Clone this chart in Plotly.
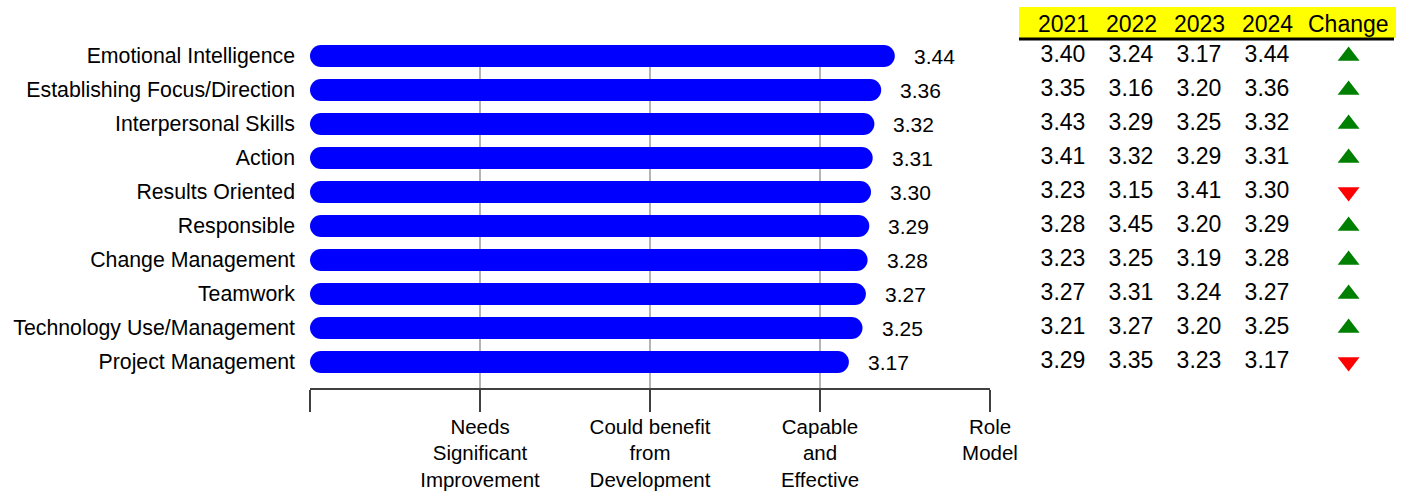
import plotly.graph_objects as go

competencies = [
    "Emotional Intelligence", "Establishing Focus/Direction", "Interpersonal Skills",
    "Action", "Results Oriented", "Responsible", "Change Management", "Teamwork",
    "Technology Use/Management", "Project Management",
]
scores_2024 = [3.44, 3.36, 3.32, 3.31, 3.30, 3.29, 3.28, 3.27, 3.25, 3.17]

years = ["2021", "2022", "2023", "2024"]
v2021 = [3.40, 3.35, 3.43, 3.41, 3.23, 3.28, 3.23, 3.27, 3.21, 3.29]
v2022 = [3.24, 3.16, 3.29, 3.32, 3.15, 3.45, 3.25, 3.31, 3.27, 3.35]
v2023 = [3.17, 3.20, 3.25, 3.29, 3.41, 3.20, 3.19, 3.24, 3.20, 3.23]
v2024 = [3.44, 3.36, 3.32, 3.31, 3.30, 3.29, 3.28, 3.27, 3.25, 3.17]

scale_labels = ["", "Needs<br>Significant<br>Improvement", "Could benefit<br>from<br>Development",
                "Capable<br>and<br>Effective", "Role<br>Model"]
scale_vals = [0, 1, 2, 3, 4]

FONT = "Arial, Liberation Sans, sans-serif"
W, H = 1406, 491
ML, MR, MT, MB = 310, 0, 45, 103
PX_PER_UNIT = 680 / 4
BAR_PX = 22
r_u = (BAR_PX / 2) / PX_PER_UNIT
xdom_end = 680 / (W - ML - MR)

fig = go.Figure()

# capsule-shaped bars: thick line between the two end-cap circles
bx, by = [], []
for name, v in zip(competencies, scores_2024):
    bx += [r_u, v - r_u, None]
    by += [name, name, None]
fig.add_trace(go.Scatter(
    x=bx, y=by, mode="lines+markers",
    line=dict(color="#0000FF", width=BAR_PX),
    marker=dict(color="#0000FF", size=BAR_PX, line=dict(width=0)),
    hoverinfo="skip", showlegend=False, cliponaxis=False,
))

for name, v in zip(competencies, scores_2024):
    fig.add_annotation(x=v, y=name, xref="x", yref="y", text=f"{v:.2f}", showarrow=False,
                       xanchor="left", xshift=17, font=dict(family=FONT, size=21, color="#000"))

# table
col_pos = [0, 1, 2, 3, 4.2]
for ci, vals in enumerate([v2021, v2022, v2023, v2024]):
    fig.add_trace(go.Scatter(
        x=[col_pos[ci]] * len(vals), y=competencies, xaxis="x2", yaxis="y",
        mode="text", text=[f"{v:.2f}" for v in vals], textposition="middle center",
        textfont=dict(family=FONT, size=23, color="#000"), hoverinfo="skip",
        showlegend=False, cliponaxis=False,
    ))
up = [a > b for a, b in zip(v2024, v2023)]
fig.add_trace(go.Scatter(
    x=[col_pos[4]] * len(up), y=competencies, xaxis="x2", yaxis="y", mode="markers",
    marker=dict(symbol=["triangle-up" if u else "triangle-down" for u in up],
                color=["#008000" if u else "#FF0000" for u in up], size=19, line=dict(width=0)),
    hoverinfo="skip", showlegend=False, cliponaxis=False,
))

plot_h = H - MT - MB
def py2paper(py):
    return (H - MB - py) / plot_h

x2_r0 = (ML + 680 - 1063) / 68
x2_r1 = (W - MR - 1063) / 68
def px2x2(px):
    return (px - 1063) / 68

fig.add_shape(type="rect", xref="x2", yref="paper", x0=px2x2(1019), x1=px2x2(1396),
              y0=py2paper(38), y1=py2paper(7), fillcolor="#FFFF00", line=dict(width=0), layer="below")
fig.add_shape(type="line", xref="x2", yref="paper", x0=px2x2(1019), x1=px2x2(1394),
              y0=py2paper(39), y1=py2paper(39), line=dict(color="#000", width=3))
for lbl, cp in zip(years + ["Change"], col_pos):
    fig.add_annotation(x=cp, y=py2paper(24), xref="x2", yref="paper", text=lbl, showarrow=False,
                       xanchor="center", yanchor="middle", font=dict(family=FONT, size=23, color="#000"))

fig.update_layout(
    width=W, height=H, margin=dict(l=ML, r=MR, t=MT, b=MB, autoexpand=False),
    paper_bgcolor="white", plot_bgcolor="white",
    font=dict(family=FONT, color="#000"),
    xaxis=dict(domain=[0, xdom_end], range=[0, 4], tickvals=scale_vals, ticktext=scale_labels,
               showgrid=True, gridcolor="#B4B4B4", gridwidth=2, zeroline=False,
               showline=True, linecolor="#404040", linewidth=2,
               ticks="outside", ticklen=22, tickwidth=2, tickcolor="#404040", automargin=False,
               ticklabelstandoff=-3,
               tickfont=dict(family=FONT, size=20.5, color="#000"), anchor="y"),
    xaxis2=dict(domain=[xdom_end, 1], range=[x2_r0, x2_r1], showgrid=False, zeroline=False,
                showline=False, showticklabels=False, anchor="y", automargin=False),
    yaxis=dict(type="category", categoryorder="array", categoryarray=competencies,
               range=[9 + 26 / 34, -11 / 34], showgrid=False, zeroline=False, showline=False,
               ticks="", ticklabelstandoff=14, automargin=False,
               tickfont=dict(family=FONT, size=21.3, color="#000")),
)

fig.write_html("out.html")
